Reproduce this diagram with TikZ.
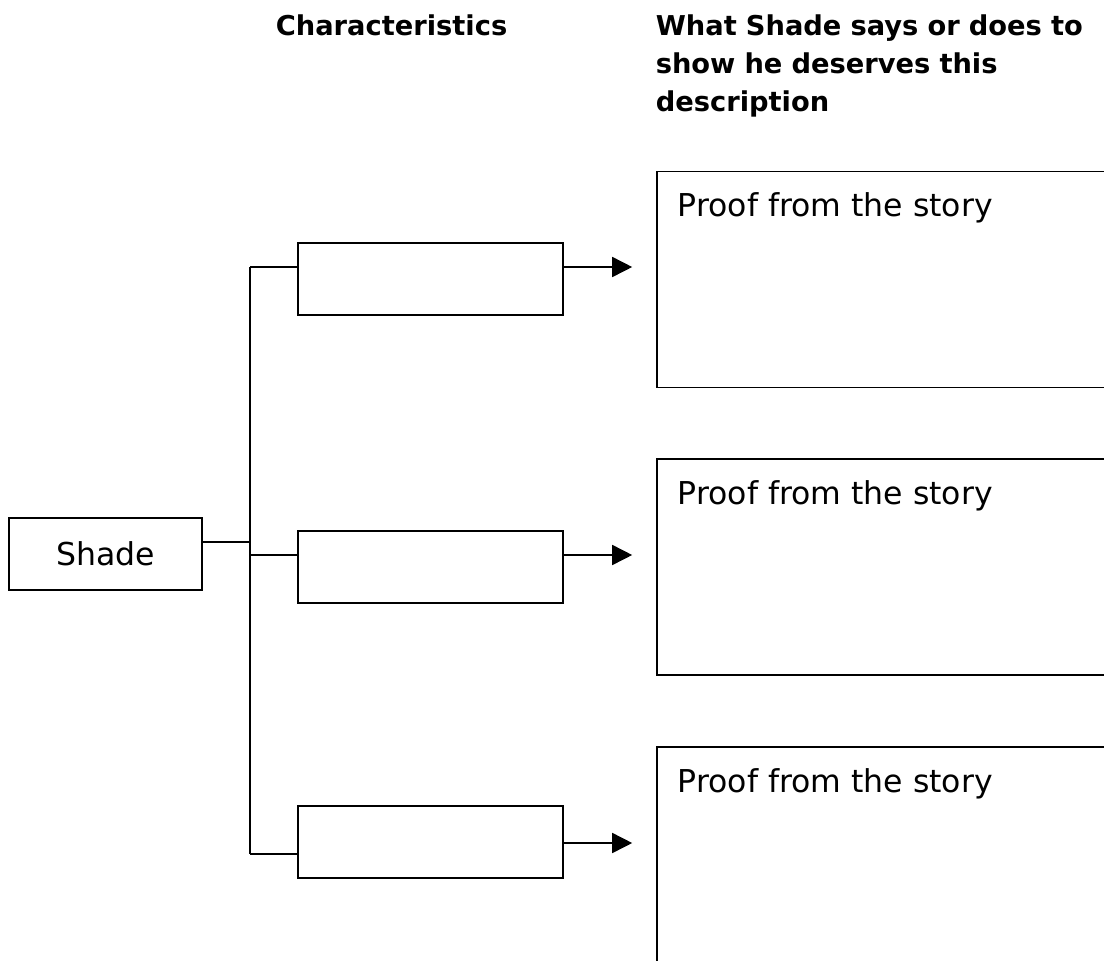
\documentclass[tikz,border=0pt]{standalone}
\usepackage{fontspec}
\setmainfont{DejaVu Sans}
\usetikzlibrary{arrows.meta}
\begin{document}
\begin{tikzpicture}[x=1pt,y=-1pt,
  line width=1.6pt,
  box/.style={draw,line width=1.6pt,inner sep=0pt,minimum width=265pt,minimum height=72pt},
  proofbox/.style={draw,line width=1.6pt,inner sep=0pt,minimum width=470pt,minimum height=216pt},
  bodytext/.style={font=\fontsize{31.5}{36}\selectfont,inner sep=0pt},
  headtext/.style={font=\bfseries\fontsize{27.3}{38}\selectfont,inner sep=0pt,align=left},
  arr/.style={-{Triangle[length=20pt,width=20pt]},line width=1.6pt,shorten >=24pt}]
\useasboundingbox (0,0) rectangle (1104,961);
\clip (0,0) rectangle (1104,961);
\fill[white] (0,0) rectangle (1104,961);
% headings
\node[headtext,anchor=base west] (h1) at (275,35) {Characteristics};
\node[headtext,anchor=base west,text width=520pt] (h2) at (655,35) {What Shade says or does to\\show he deserves this\\description};
% left box
\node[draw,line width=1.6pt,inner sep=0pt,minimum width=193pt,minimum height=72pt] (s) at (105.5,554) {};
\node[bodytext,anchor=base] (st) at (105.5,565) {Shade};
% characteristic boxes
\node[box] (b1) at (430.5,279) {};
\node[box] (b2) at (430.5,567) {};
\node[box] (b3) at (430.5,842) {};
% proof boxes
\node[proofbox] (p1) at (892,279.5) {};
\node[proofbox] (p2) at (892,567) {};
\node[proofbox,minimum height=260pt] (p3) at (892,877) {};
\node[bodytext,anchor=base west] (t1) at (677,216) {Proof from the story};
\node[bodytext,anchor=base west] (t2) at (677,504) {Proof from the story};
\node[bodytext,anchor=base west] (t3) at (677,792) {Proof from the story};
% tree
\coordinate (j1) at (250,267);
\coordinate (j2) at (250,555);
\coordinate (j3) at (250,854);
\coordinate (js) at (250,542);
\draw (j1) -- (j3);
\draw (js -| s.east) -- (js);
\draw (j1) -- (j1 -| b1.west);
\draw (j2) -- (j2 -| b2.west);
\draw (j3) -- (j3 -| b3.west);
% arrows
\coordinate (a1) at ([yshift=12pt]b1.east);
\coordinate (a2) at ([yshift=12pt]b2.east);
\coordinate (a3) at ([yshift=-1pt]b3.east);
\draw[arr] (a1) -- (a1 -| p1.west);
\draw[arr] (a2) -- (a2 -| p2.west);
\draw[arr] (a3) -- (a3 -| p3.west);
\end{tikzpicture}
\end{document}
